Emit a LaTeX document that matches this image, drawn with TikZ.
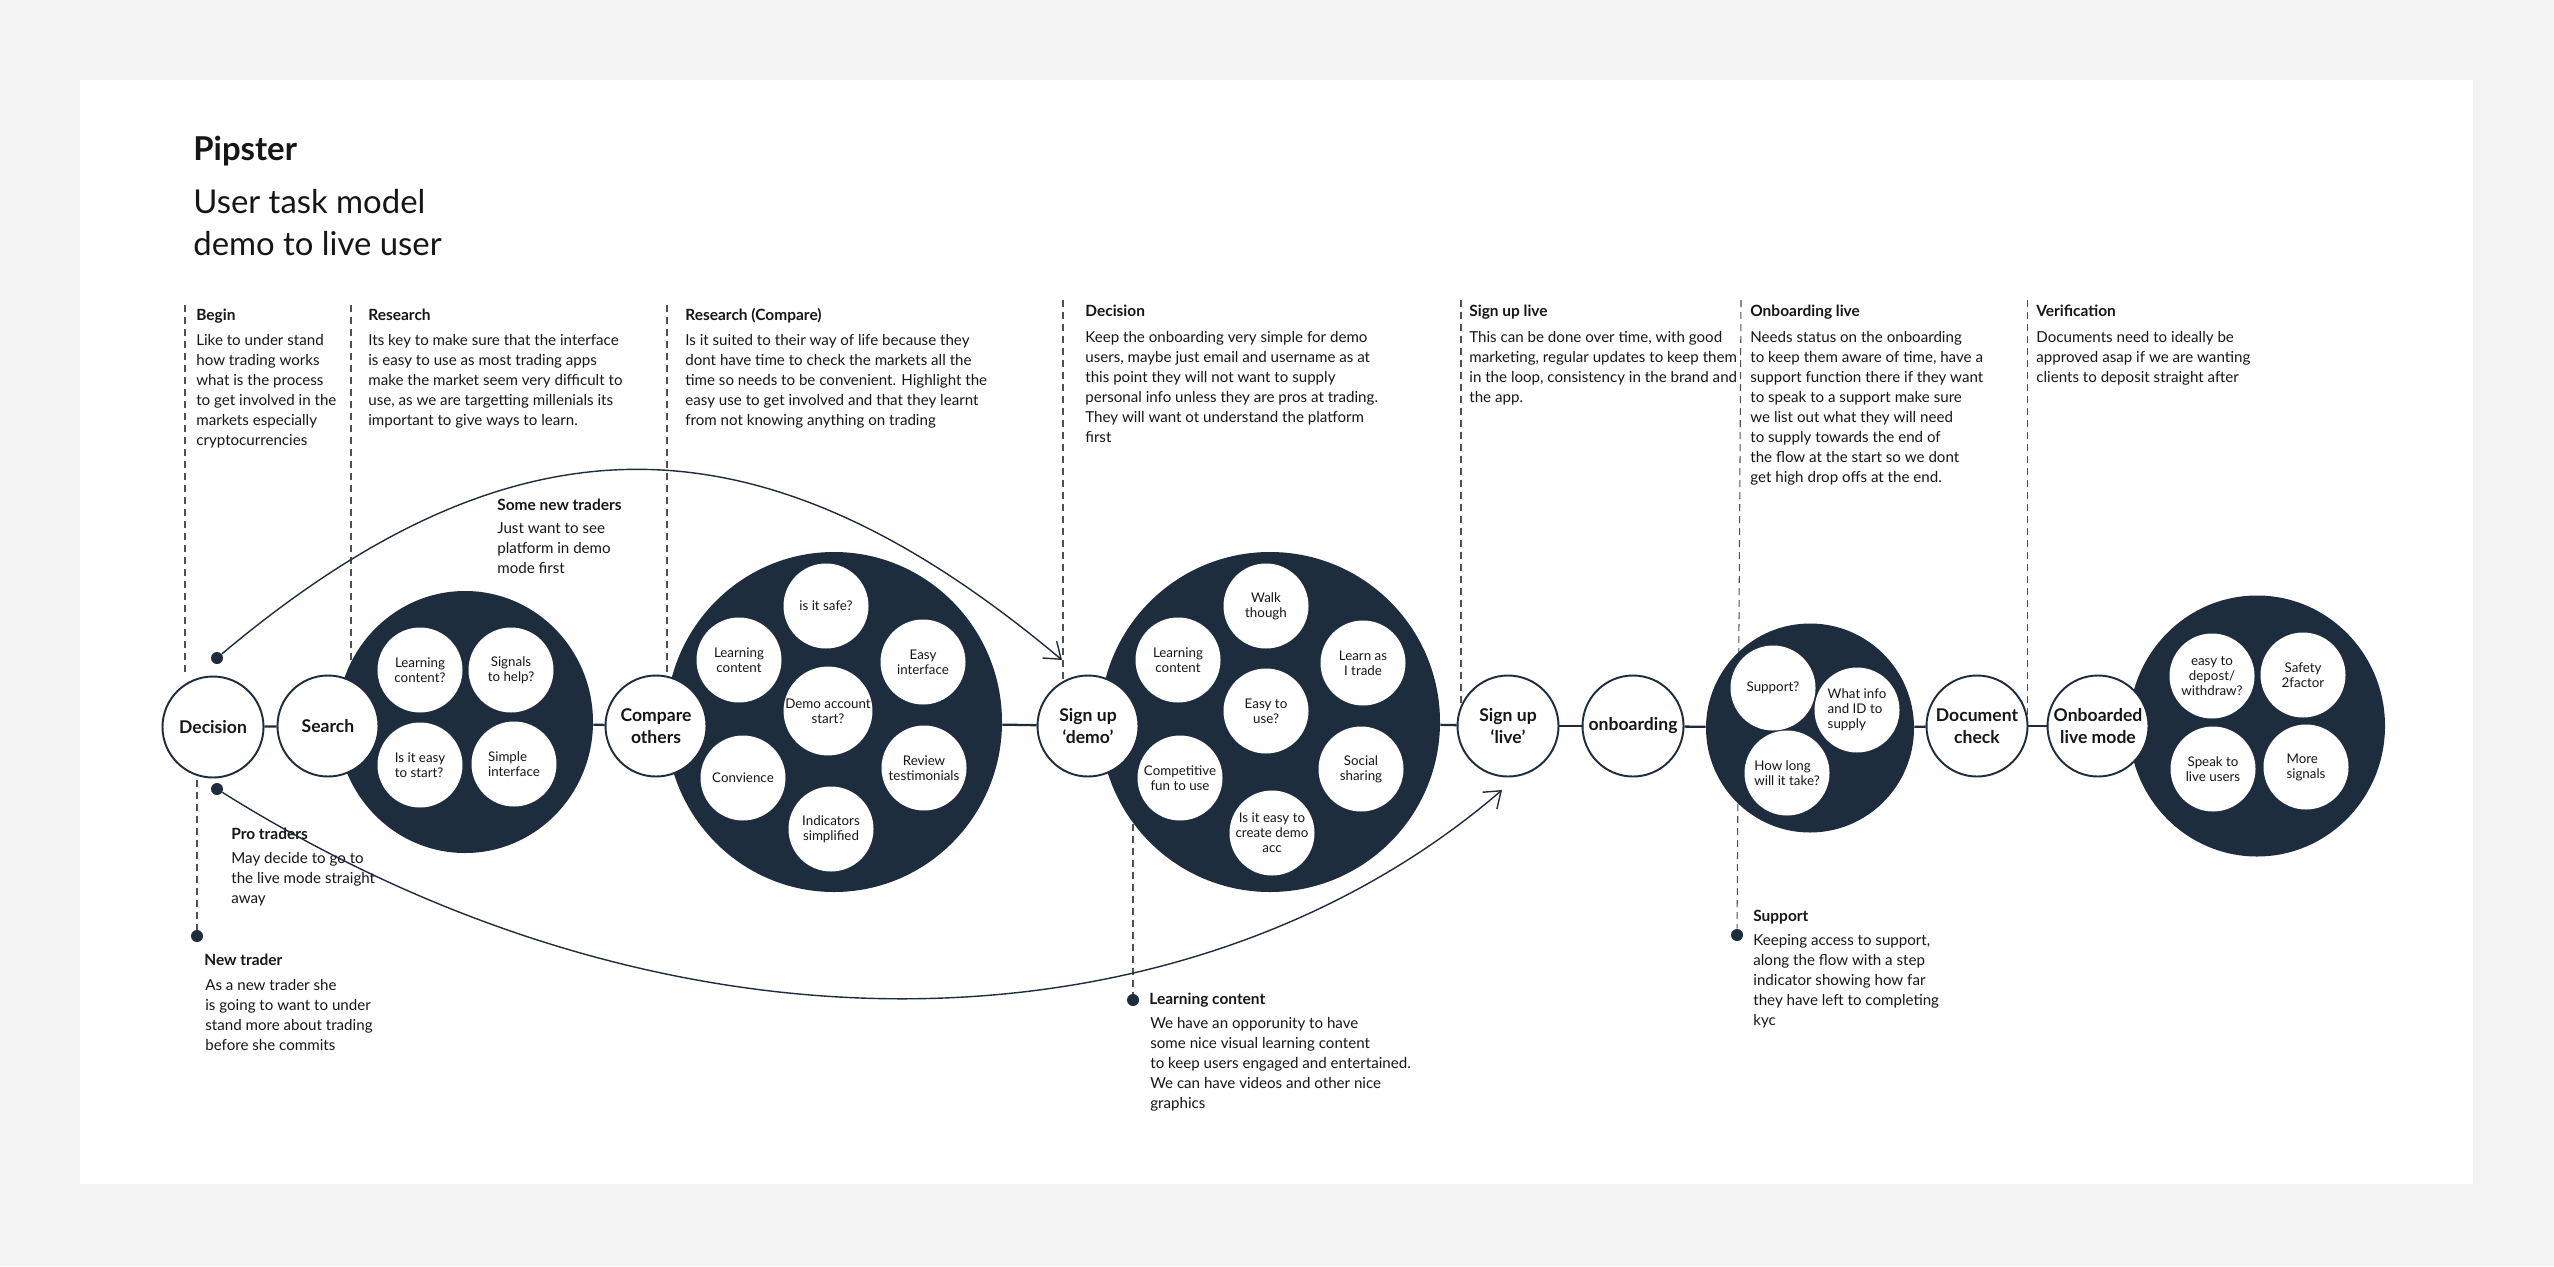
\documentclass[tikz,border=0pt]{standalone}
\usepackage{fontspec}
\setmainfont{Lato}
\usetikzlibrary{arrows.meta,shapes.geometric,positioning}

\definecolor{navy}{RGB}{30,45,61}
\definecolor{ink}{RGB}{22,22,22}
\definecolor{paper}{RGB}{243,243,243}
\definecolor{guidegray}{RGB}{80,80,80}

\begin{document}
\begin{tikzpicture}[
                x=0.2mm, y=-0.2mm,
                stage/.style={circle, draw=navy, line width=1.1pt, fill=white, minimum size=20.2mm, inner sep=0pt, align=center, text=ink, font=\fontsize{10}{12.3}\selectfont\bfseries},
                blob/.style={ellipse, fill=navy, inner sep=0pt},
                need/.style={circle, fill=white, minimum size=17mm, inner sep=0pt, align=center, text=ink, font=\fontsize{7.6}{8.5}\selectfont},
                heading/.style={anchor=base west, inner sep=0pt, text=ink, font=\fontsize{8.8}{11.4}\selectfont\bfseries},
                notetext/.style={anchor=north west, inner sep=0pt, align=left, text=ink, font=\fontsize{8.6}{11.38}\selectfont, execute at begin node=\strut, yshift=5.9pt},
                guide/.style={draw=guidegray, line width=0.6pt, dash pattern=on 1.4mm off 1mm},
                pin/.style={circle, fill=navy, minimum size=2.4mm, inner sep=0pt},
                flow/.style={draw=navy, line width=1.3pt},
                shortcut/.style={draw=navy, line width=0.8pt, -{Straight Barb[length=3mm,width=4.4mm]}}
            ]

                % Page and card
                \fill[paper] (0,0) rectangle (2554,1266);
                \fill[white] (80,80) rectangle (2473,1184);

                % Title
                \node[anchor=base west, inner sep=0pt, text=ink, font=\fontsize{18.7}{24}\selectfont\bfseries] (brand) at (193,160) {Pipster};
                \node[anchor=north west, inner sep=0pt, align=left, text=ink, font=\fontsize{18.7}{23.9}\selectfont, execute at begin node=\strut, yshift=13.3pt] (subtitle) at (193,212) {User task model\\demo to live user};

                % Ends of the dashed guides
                \coordinate (beginTop) at (185,305);
                \coordinate (beginFoot) at (185,673);
                \coordinate (researchTop) at (351,305);
                \coordinate (researchFoot) at (351,670);
                \coordinate (compareTop) at (667,305);
                \coordinate (compareFoot) at (667,700);
                \coordinate (decisionTop) at (1063,300);
                \coordinate (decisionFoot) at (1063,700);
                \coordinate (liveTop) at (1461,300);
                \coordinate (liveFoot) at (1461,715);
                \coordinate (onbTop) at (1741,300);
                \coordinate (verifyTop) at (2027,300);
                \coordinate (verifyFoot) at (2027,715);
                \coordinate (newTop) at (197,780);
                \coordinate (learnTop) at (1133,800);

                % Dots
                \node[pin] (demoDot) at (217,658) {};
                \node[pin] (proDot) at (217,789) {};
                \node[pin] (newDot) at (197,936) {};
                \node[pin] (learnDot) at (1133,1000) {};
                \node[pin] (supportDot) at (1737,935) {};

                \draw[guide] (beginTop) -- (beginFoot);
                \draw[guide] (researchTop) -- (researchFoot);
                \draw[guide] (compareTop) -- (compareFoot);
                \draw[guide] (decisionTop) -- (decisionFoot);
                \draw[guide] (liveTop) -- (liveFoot);
                \draw[guide] (onbTop) -- (supportDot);
                \draw[guide] (verifyTop) -- (verifyFoot);
                \draw[guide] (newTop) -- (newDot);
                \draw[guide] (learnTop) -- (learnDot);

                % Column notes
                \node[heading] (beginHd) at (196,320) {Begin};
                \node[notetext] (beginTxt) at (196,344) {Like to under stand\\how trading works\\what is the process\\to get involved in the\\markets especially\\cryptocurrencies};
                \node[heading] (researchHd) at (368,320) {Research};
                \node[notetext] (researchTxt) at (368,344) {Its key to make sure that the interface\\is easy to use as most trading apps\\make the market seem very difficult to\\use, as we are targetting millenials its\\important to give ways to learn.};
                \node[heading] (compareHd) at (685,320) {Research (Compare)};
                \node[notetext] (compareTxt) at (685,344) {Is it suited to their way of life because they\\dont have time to check the markets all the\\time so needs to be convenient. Highlight the\\easy use to get involved and that they learnt\\from not knowing anything on trading};
                \node[heading] (decisionHd) at (1085,316) {Decision};
                \node[notetext] (decisionTxt) at (1085,341) {Keep the onboarding very simple for demo\\users, maybe just email and username as at\\this point they will not want to supply\\personal info unless they are pros at trading.\\They will want ot understand the platform\\first};
                \node[heading] (liveHd) at (1469,316) {Sign up live};
                \node[notetext] (liveTxt) at (1469,341) {This can be done over time, with good\\marketing, regular updates to keep them\\in the loop, consistency in the brand and\\the app.};
                \node[heading] (onbHd) at (1750,316) {Onboarding live};
                \node[notetext] (onbTxt) at (1750,341) {Needs status on the onboarding\\to keep them aware of time, have a\\support function there if they want\\to speak to a support make sure\\we list out what they will need\\to supply towards the end of\\the flow at the start so we dont\\get high drop offs at the end.};
                \node[heading] (verifyHd) at (2036,316) {Verification};
                \node[notetext] (verifyTxt) at (2036,341) {Documents need to ideally be\\approved asap if we are wanting\\clients to deposit straight after};

                % Side notes
                \node[heading] (someHd) at (497,510) {Some new traders};
                \node[notetext] (someTxt) at (497,533) {Just want to see\\platform in demo\\mode first};
                \node[heading] (proHd) at (231,839) {Pro traders};
                \node[notetext] (proTxt) at (231,862) {May decide to go to\\the live mode straight\\away};
                \node[heading] (newHd) at (204,965) {New trader};
                \node[notetext] (newTxt) at (205,989) {As a new trader she\\is going to want to under\\stand more about trading\\before she commits};
                \node[heading] (learnHd) at (1149,1004) {Learning content};
                \node[notetext] (learnTxt) at (1150,1027) {We have an opporunity to have\\some nice visual learning content\\to keep users engaged and entertained.\\We can have videos and other nice\\graphics};
                \node[heading] (supportHd) at (1753,921) {Support};
                \node[notetext] (supportTxt) at (1753,944) {Keeping access to support,\\along the flow with a step\\indicator showing how far\\they have left to completing\\kyc};

                % Dark clusters of needs
                \node[blob, minimum width=51.2mm, minimum height=52.4mm] (searchBlob) at (465,722) {};
                \node[blob, minimum width=67.2mm, minimum height=68mm] (compareBlob) at (834,722) {};
                \node[blob, minimum width=68mm, minimum height=68mm] (demoBlob) at (1270,722) {};
                \node[blob, minimum width=41.6mm, minimum height=41.8mm] (onbBlob) at (1810,728) {};
                \node[blob, minimum width=51.2mm, minimum height=52.2mm] (liveBlob) at (2257,726) {};

                \node[need] (searchLearn) at (420,670) {Learning\\content?};
                \node[need] (searchSignals) at (511,670) {Signals\\to help?};
                \node[need, align=left] (searchEasy) at (420,765) {Is it easy\\to start?};
                \node[need, align=left] (searchSimple) at (514,764) {Simple\\interface};

                \node[need] (cmpSafe) at (826,606) {is it safe?};
                \node[need] (cmpLearn) at (739,660) {Learning\\content};
                \node[need] (cmpEasy) at (923,662) {Easy\\interface};
                \node[need] (cmpDemo) at (828,711) {Demo account\\start?};
                \node[need] (cmpConv) at (743,778) {Convience};
                \node[need] (cmpReview) at (924,768) {Review\\testimonials};
                \node[need] (cmpInd) at (831,829) {Indicators\\simplified};

                \node[need] (demoWalk) at (1266,606) {Walk\\though};
                \node[need] (demoLearn) at (1178,660) {Learning\\content};
                \node[need] (demoTrade) at (1363,663) {Learn as\\I trade};
                \node[need] (demoUse) at (1266,711) {Easy to\\use?};
                \node[need] (demoFun) at (1180,778) {Competitive\\fun to use};
                \node[need] (demoSocial) at (1361,769) {Social\\sharing};
                \node[need] (demoAcc) at (1272,833) {Is it easy to\\create demo\\acc};

                \node[need] (onbSupport) at (1773,688) {Support?};
                \node[need, align=left] (onbInfo) at (1857,710) {What info\\and ID to\\supply};
                \node[need, align=left] (onbLong) at (1787,773) {How long\\will it take?};

                \node[need] (liveDeposit) at (2212,676) {easy to\\depost/\\withdraw?};
                \node[need] (liveSafety) at (2303,675) {Safety\\2factor};
                \node[need] (liveSpeak) at (2213,769) {Speak to\\live users};
                \node[need, align=left] (liveSignals) at (2306,767) {More\\signals};

                % Main stages
                \node[stage] (decision) at (213,727) {Decision};
                \node[stage] (search) at (328,726) {Search};
                \node[stage] (compare) at (656,726) {Compare\\others};
                \node[stage] (signDemo) at (1088,726) {Sign up\\‘demo’};
                \node[stage] (signLive) at (1508,726) {Sign up\\‘live’};
                \node[stage] (onboard) at (1633,726) {onboarding};
                \node[stage] (docCheck) at (1977,726) {Document\\check};
                \node[stage] (liveMode) at (2098,726) {Onboarded\\live mode};

                % Flow line
                \draw[flow] (decision) -- (search);
                \draw[flow] (searchBlob) -- (compare);
                \draw[flow] (compareBlob) -- (signDemo);
                \draw[flow] (demoBlob) -- (signLive);
                \draw[flow] (signLive) -- (onboard);
                \draw[flow] (onboard) -- (onbBlob);
                \draw[flow] (onbBlob) -- (docCheck);
                \draw[flow] (docCheck) -- (liveMode);

                % Shortcuts for new and pro traders
                \coordinate (demoTip) at (1062,660);
                \coordinate (liveTip) at (1502,790);
                \draw[shortcut] (demoDot) .. controls (517,406) and (762,408) .. (demoTip);
                \draw[shortcut] (proDot) .. controls (690,1085) and (1200,1050) .. (liveTip);

            \end{tikzpicture}
\end{document}
